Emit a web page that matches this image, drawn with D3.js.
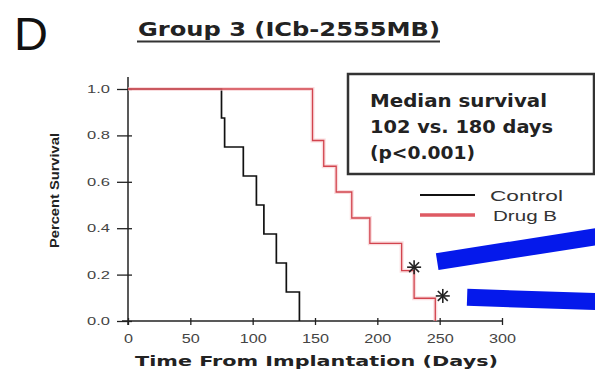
<!DOCTYPE html>
<html>
<head>
<meta charset="utf-8">
<script src="https://cdn.jsdelivr.net/npm/d3@7"></script>
<style>
  html, body { margin: 0; padding: 0; background: #fff; }
  svg { display: block; }
</style>
</head>
<body>
<svg id="chart" width="595" height="370"></svg>
<script>
// Kaplan-Meier survival, Group 3 (ICb-2555MB)
const xTickValues = [0, 50, 100, 150, 200, 250, 300];
const yTickValues = [0, 0.2, 0.4, 0.6, 0.8, 1.0];

// Control: days at which each death occurs and the survival after each step
const controlDays = [75, 77.5, 92.5, 103, 109, 119, 127, 137.5];
const controlSurv = [1, 0.875, 0.75, 0.625, 0.5, 0.375, 0.25, 0.125, 0];

// Drug B
const drugDays = [148, 157, 167, 179.5, 194, 219.5, 229.5, 246.5];
const drugSurv = [1, 0.778, 0.667, 0.556, 0.444, 0.335, 0.217, 0.098, 0];

// censored animals (asterisks)
const censorDays = [229.5, 252.5];
const censorSurv = [0.232, 0.108];

// highlight bars pointing at the censored animals
const bars = [
  { from: [248, 0.256], to: [376, 0.364] },
  { from: [272, 0.102], to: [376, 0.084] }
];

const legendLabels = ["Control", "Drug B"];
const boxLines = ["Median survival", "102 vs. 180 days", "(p<0.001)"];

const svg = d3.select("#chart");
const x = d3.scaleLinear().domain([0, 300]).range([128, 502]);
const y = d3.scaleLinear().domain([0, 1]).range([321, 89]);

const sans = "'Liberation Sans', Arial, sans-serif";
const bold = "'DejaVu Sans', Verdana, sans-serif";

function widen(sel, k) {
  sel.each(function () {
    const L = this.getComputedTextLength();
    d3.select(this).attr("textLength", L * k).attr("lengthAdjust", "spacingAndGlyphs");
  });
}

// panel letter
svg.append("text").attr("x", 14).attr("y", 50)
  .attr("font-family", sans).attr("font-size", 47).attr("fill", "#111")
  .text("D");

// title with underline
svg.append("text").attr("x", 138).attr("y", 35.5)
  .attr("font-family", bold).attr("font-weight", "bold").attr("font-size", 19)
  .attr("fill", "#222").attr("textLength", 302).attr("lengthAdjust", "spacingAndGlyphs")
  .text("Group 3 (ICb-2555MB)");
svg.append("line").attr("x1", 137).attr("x2", 440).attr("y1", 41.5).attr("y2", 41.5)
  .attr("stroke", "#333").attr("stroke-width", 2);

// axes
const gx = svg.append("g").attr("transform", `translate(0,${y(0)})`)
  .call(d3.axisBottom(x).tickValues(xTickValues).tickFormat(d3.format("d"))
    .tickSize(4).tickPadding(9));
gx.select(".domain").remove();
gx.selectAll(".tick line").attr("y1", -3).attr("stroke", "#222").attr("stroke-width", 1.3);
gx.selectAll("text").attr("font-family", sans).attr("font-size", 12).attr("fill", "#444");
widen(gx.selectAll("text"), 1.35);

const gy = svg.append("g").attr("transform", `translate(${x(0)},0)`)
  .call(d3.axisLeft(y).tickValues(yTickValues).tickFormat(d3.format(".1f"))
    .tickSize(11).tickPadding(7));
gy.select(".domain").remove();
gy.selectAll(".tick line").attr("x1", 4).attr("stroke", "#222").attr("stroke-width", 1.3);
gy.selectAll("text").attr("font-family", sans).attr("font-size", 11).attr("fill", "#444");
widen(gy.selectAll("text"), 1.5);

svg.append("line").attr("x1", x(0) - 6).attr("x2", x(300)).attr("y1", y(0)).attr("y2", y(0))
  .attr("stroke", "#222").attr("stroke-width", 1.5);
svg.append("line").attr("x1", x(0)).attr("x2", x(0)).attr("y1", y(1) - 12).attr("y2", y(0) + 4)
  .attr("stroke", "#222").attr("stroke-width", 1.5);

// axis titles
svg.append("text").attr("x", 135).attr("y", 366)
  .attr("font-family", bold).attr("font-weight", "bold").attr("font-size", 14)
  .attr("fill", "#222").attr("textLength", 363).attr("lengthAdjust", "spacingAndGlyphs")
  .text("Time From Implantation (Days)");
svg.append("text").attr("transform", "translate(59,248) rotate(-90)")
  .attr("font-family", sans).attr("font-weight", "bold").attr("font-size", 13)
  .attr("fill", "#222").attr("textLength", 115).attr("lengthAdjust", "spacingAndGlyphs")
  .text("Percent Survival");

// step curves
function stepPoints(days, surv) {
  const pts = [[0, surv[0]]];
  days.forEach((d, i) => { pts.push([d, surv[i]]); pts.push([d, surv[i + 1]]); });
  return pts;
}
const line = d3.line().x(d => x(d[0])).y(d => y(d[1]));

svg.append("path").attr("d", line(stepPoints(controlDays, controlSurv)))
  .attr("fill", "none").attr("stroke", "#111").attr("stroke-width", 1.7);

const drugPts = stepPoints(drugDays, drugSurv);
svg.append("path").attr("d", line(drugPts))
  .attr("fill", "none").attr("stroke", "#f6c4c8").attr("stroke-width", 4).attr("opacity", 0.6);
svg.append("path").attr("d", line(drugPts))
  .attr("fill", "none").attr("stroke", "#d2444e").attr("stroke-width", 1.3);

// censor marks
const star = svg.selectAll(".censor").data(censorDays).join("g")
  .attr("class", "censor")
  .attr("transform", (d, i) => `translate(${x(d)},${y(censorSurv[i])})`);
[0, 45, 90, 135].forEach(a => {
  star.append("line").attr("x1", -7).attr("x2", 7).attr("y1", 0).attr("y2", 0)
    .attr("transform", `rotate(${a})`).attr("stroke", "#222").attr("stroke-width", 1.6);
});

// highlight bars
svg.selectAll(".bar").data(bars).join("line").attr("class", "bar")
  .attr("x1", d => x(d.from[0])).attr("y1", d => y(d.from[1]))
  .attr("x2", d => x(d.to[0])).attr("y2", d => y(d.to[1]))
  .attr("stroke", "#0519eb").attr("stroke-width", 17);

// median survival box
svg.append("rect").attr("x", 348).attr("y", 74).attr("width", 246).attr("height", 100)
  .attr("fill", "#fff").attr("stroke", "#333").attr("stroke-width", 2.5);
svg.selectAll(".boxline").data(boxLines).join("text").attr("class", "boxline")
  .attr("x", 370).attr("y", (d, i) => 107 + i * 26)
  .attr("font-family", bold).attr("font-weight", "bold").attr("font-size", 18)
  .attr("fill", "#222")
  .attr("textLength", (d, i) => [177, 183, 105][i]).attr("lengthAdjust", "spacingAndGlyphs")
  .text(d => d);

// legend
const legendColors = ["#111", "#de5a63"];
const legendWidths = [2, 3.5];
const lg = svg.selectAll(".legend").data(legendLabels).join("g").attr("class", "legend")
  .attr("transform", (d, i) => `translate(0,${195 + i * 20})`);
lg.append("line").attr("x1", 420).attr("x2", 475).attr("y1", 0).attr("y2", 0)
  .attr("stroke", (d, i) => legendColors[i]).attr("stroke-width", (d, i) => legendWidths[i]);
lg.append("text").attr("x", (d, i) => [490, 493][i]).attr("y", 6)
  .attr("font-family", sans).attr("font-size", 15).attr("fill", "#333")
  .attr("textLength", (d, i) => [73, 64][i]).attr("lengthAdjust", "spacingAndGlyphs")
  .text(d => d);
</script>
</body>
</html>
